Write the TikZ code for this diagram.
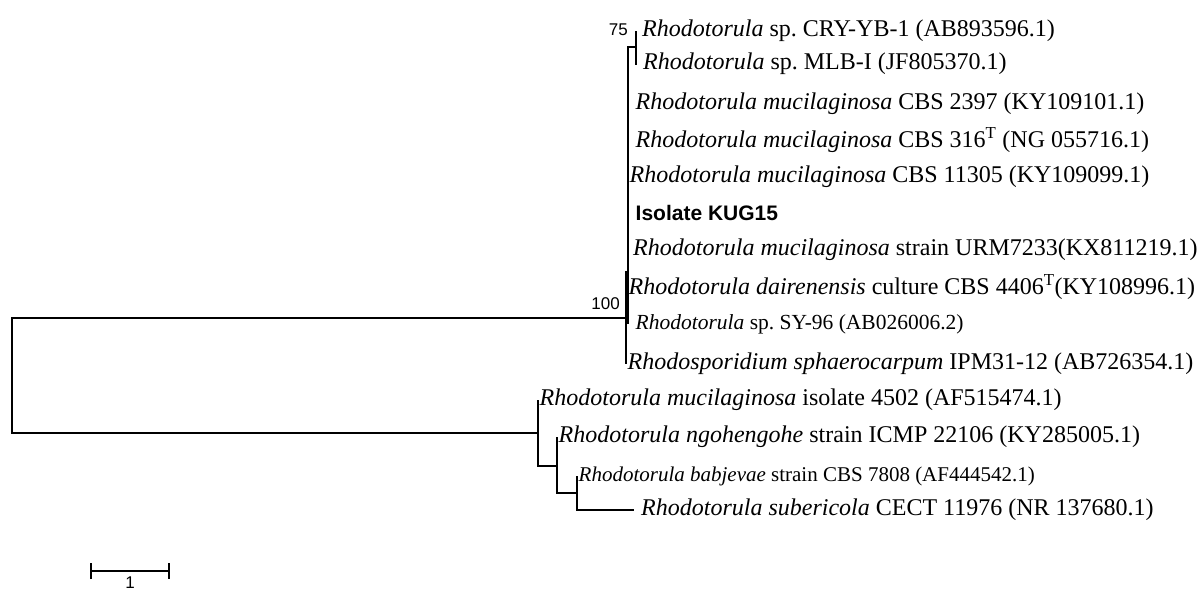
\documentclass[tikz,border=0pt]{standalone}
\usepackage{fontspec}
\setmainfont{Liberation Serif}
\newfontfamily\arialfont{Liberation Sans}
\usetikzlibrary{arrows.meta,calc}
\tikzset{
  branch/.style={line width=1.8pt, black},
  taxon/.style={anchor=west, inner xsep=1.5pt, inner ysep=0pt, font=\fontsize{24}{27}\selectfont},
  taxongap/.style={taxon, inner xsep=7.5pt},
  smalltaxon/.style={taxongap, font=\fontsize{21.5}{24}\selectfont},
  ourtaxon/.style={taxongap, font=\arialfont\bfseries\fontsize{21}{24}\selectfont},
  boot/.style={font=\arialfont\fontsize{17}{20}\selectfont, inner sep=1pt},
  scalebar/.style={line width=1.8pt, {Bar[width=16pt]}-{Bar[width=16pt]}}
}

\begin{document}
\begin{tikzpicture}[x=1pt, y=-1pt]
\useasboundingbox (0,0) rectangle (1204,593);
\coordinate (root) at (12,376);
\coordinate (n100) at (626,318);
\coordinate (nB) at (628,272);
\coordinate (n75) at (636,47);
\coordinate (nA) at (538,433);
\coordinate (nC) at (557,466);
\coordinate (nD) at (577,493);

\node[taxongap, inner xsep=6pt] (cry) at (636,31) {\textit{Rhodotorula} sp.\ CRY-YB-1 (AB893596.1)};
\node[taxongap, inner xsep=6pt] (mlb) at (637,64) {\textit{Rhodotorula} sp.\ MLB-I (JF805370.1)};
\node[taxongap] (m2397) at (628,104) {\textit{Rhodotorula mucilaginosa} CBS 2397 (KY109101.1)};
\node[taxongap] (m316) at (628,140) {\textit{Rhodotorula mucilaginosa} CBS 316\textsuperscript{T} (NG 055716.1)};
\node[taxon] (m11305) at (628,177) {\textit{Rhodotorula mucilaginosa} CBS 11305 (KY109099.1)};
\node[ourtaxon] (kug) at (628,213) {Isolate KUG15};
\node[taxongap, inner xsep=5pt] (urm) at (628,250) {\textit{Rhodotorula mucilaginosa} strain URM7233(KX811219.1)};
\node[taxon] (dair) at (627,287) {\textit{Rhodotorula dairenensis} culture CBS 4406\textsuperscript{T}(KY108996.1)};
\node[smalltaxon] (sy96) at (628,324) {\textit{Rhodotorula} sp.\ SY-96 (AB026006.2)};
\node[taxon] (rsph) at (626,364) {\textit{Rhodosporidium sphaerocarpum} IPM31-12 (AB726354.1)};
\node[taxon] (m4502) at (538,400) {\textit{Rhodotorula mucilaginosa} isolate 4502 (AF515474.1)};
\node[taxon] (ngo) at (557,437) {\textit{Rhodotorula ngohengohe} strain ICMP 22106 (KY285005.1)};
\node[taxon, font=\fontsize{21}{24}\selectfont] (bab) at (577,476) {\textit{Rhodotorula babjevae} strain CBS 7808 (AF444542.1)};
\node[taxongap, inner xsep=7pt] (sub) at (634,510) {\textit{Rhodotorula subericola} CECT 11976 (NR 137680.1)};

\draw[branch] (root) |- (n100);
\draw[branch] (root) |- (nA);
\draw[branch] (n100) |- (nB);
\draw[branch] (n100) |- (rsph.west);
\draw[branch] (nB) |- (n75);
\foreach \t in {m2397,m316,m11305,kug,urm,dair,sy96}
  \draw[branch] (nB) |- (\t.west);
\draw[branch] (n75) |- (cry.west);
\draw[branch] (n75) |- (mlb.west);
\draw[branch] (nA) |- (m4502.west);
\draw[branch] (nA) |- (nC);
\draw[branch] (nC) |- (ngo.west);
\draw[branch] (nC) |- (nD);
\draw[branch] (nD) |- (bab.west);
\draw[branch] (nD) |- (sub.west);

\node[boot, anchor=east] (b75) at (629,30) {75};
\node[boot, anchor=east] (b100) at (621,304) {100};

\coordinate (sbl) at (90,571);
\coordinate (sbr) at (170,571);
\draw[scalebar] (sbl) -- (sbr);
\node[boot, anchor=north] (sblab) at ($(sbl)!0.5!(sbr)+(0,5)$) {1};
\end{tikzpicture}
\end{document}
